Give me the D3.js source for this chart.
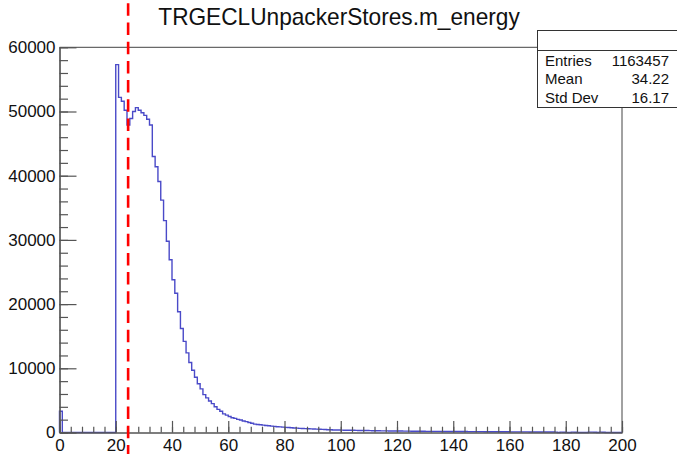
<!DOCTYPE html>
<html>
<head>
<meta charset="utf-8">
<script src="https://cdn.jsdelivr.net/npm/d3@7"></script>
<style>
  body { margin: 0; background: #fff; }
  text { font-family: "Liberation Sans", Arial, sans-serif; fill: #111; }
</style>
</head>
<body>
<script>
// histogram contents, one value per bin of width 1, from 0 to 200
var binCounts = [
  3300, 0, 0, 0, 0, 0, 0, 0, 0, 0,
  0, 0, 0, 0, 0, 0, 0, 0, 0, 0,
  57300, 52200, 51600, 50200, 47900, 48900, 50000, 50600, 50200, 49800,
  49400, 48800, 47900, 43000, 41400, 39100, 36200, 33000, 29800, 26900,
  23800, 21700, 18800, 16200, 14200, 12400, 10900, 9700, 8600, 7600,
  6800, 5900, 5400, 4900, 4500, 4000, 3600, 3300, 2900, 2700,
  2500, 2300, 2200, 2050, 1950, 1800, 1700, 1550, 1450, 1300,
  1250, 1200, 1150, 1100, 1050, 1000, 950, 900, 870, 840,
  800, 770, 740, 710, 680, 650, 620, 600, 580, 560,
  540, 520, 500, 480, 460, 440, 420, 400, 390, 380,
  370, 360, 350, 345, 340, 330, 320, 315, 310, 300,
  290, 280, 270, 265, 260, 255, 250, 245, 240, 235,
  230, 225, 220, 215, 210, 205, 200, 195, 190, 185,
  180, 178, 175, 172, 170, 168, 165, 162, 160, 158,
  155, 152, 150, 148, 145, 142, 140, 138, 135, 132,
  130, 128, 125, 122, 120, 118, 115, 112, 110, 108,
  105, 102, 100, 98, 95, 92, 90, 88, 85, 82,
  80, 78, 75, 72, 70, 68, 65, 0, 60, 50,
  0, 0, 55, 50, 0, 0, 0, 0, 60, 55,
  50, 0, 55, 45, 0, 0, 0, 0, 0, 0
];

var xMajorTicks = [0, 20, 40, 60, 80, 100, 120, 140, 160, 180, 200];
var xMinorTicks = d3.range(0, 201, 4);
var yMajorTicks = [0, 10000, 20000, 30000, 40000, 50000, 60000];
var yMinorTicks = d3.range(0, 60001, 2000);

var cutValue = 24.4;  // dashed red line

var title = "TRGECLUnpackerStores.m_energy";
var statNames = ["Entries", "Mean", "Std Dev"];
var statValues = ["1163457", "34.22", "16.17"];

var width = 677, height = 454;
// careful: "top" is taken by window.top, so other names here
var frameL = 59.5, frameR = 622, frameT = 47.3, frameB = 432.5;

var svg = d3.select("body")
    .append("svg")
    .attr("width", width)
    .attr("height", height);

var xScale = d3.scaleLinear()
    .domain([0, 200])
    .range([frameL, frameR]);

var yScale = d3.scaleLinear()
    .domain([0, 60000])
    .range([frameB, frameT]);

// frame, top and right sides
svg.append("path")
    .attr("d", "M" + frameL + "," + frameT + "H" + frameR + "V" + frameB)
    .attr("fill", "none")
    .attr("stroke", "#444")
    .attr("stroke-width", 1);

// histogram outline as steps
var pts = [[0, 0]];
binCounts.forEach(function(c, i) {
    pts.push([i, c]);
    pts.push([i + 1, c]);
});
pts.push([200, 0]);

var line = d3.line()
    .x(d => xScale(d[0]))
    .y(d => yScale(d[1]));

svg.append("path")
    .datum(pts)
    .attr("d", line)
    .attr("fill", "none")
    .attr("stroke", "#4a4ac8")
    .attr("stroke-width", 1.4);

// axes, ticks point inwards like ROOT
var fontSize = "17px";

var yMinor = svg.append("g")
    .attr("transform", "translate(" + frameL + ",0)")
    .call(d3.axisLeft(yScale).tickValues(yMinorTicks).tickSize(-8.5).tickSizeOuter(0).tickFormat(""));
var yMajor = svg.append("g")
    .attr("transform", "translate(" + frameL + ",0)")
    .call(d3.axisLeft(yScale).tickValues(yMajorTicks).tickSize(-17).tickSizeOuter(0).tickPadding(4).tickFormat(d3.format("d")));

var xMinor = svg.append("g")
    .attr("transform", "translate(0," + frameB + ")")
    .call(d3.axisBottom(xScale).tickValues(xMinorTicks).tickSize(-5.8).tickSizeOuter(0).tickFormat(""));
var xMajor = svg.append("g")
    .attr("transform", "translate(0," + frameB + ")")
    .call(d3.axisBottom(xScale).tickValues(xMajorTicks).tickSize(-11.6).tickSizeOuter(0).tickPadding(6));

[yMinor, yMajor, xMinor, xMajor].forEach(function(g) {
    g.selectAll("path, line").attr("stroke", "#555").attr("stroke-width", 1.2);
    g.selectAll("text")
        .attr("font-size", fontSize)
        .attr("font-family", "Liberation Sans, Arial, sans-serif")
        .attr("fill", "#111");
});

// dashed cut line
svg.append("line")
    .attr("x1", xScale(cutValue))
    .attr("x2", xScale(cutValue))
    .attr("y1", 0)
    .attr("y2", height)
    .attr("stroke", "#ff0000")
    .attr("stroke-width", 2.6)
    .attr("stroke-dasharray", "12.5,6.7")
    .attr("stroke-dashoffset", 15.9);

// stats box
var box = svg.append("g");
box.append("rect")
    .attr("x", 537.5).attr("y", 30.5)
    .attr("width", 150).attr("height", 77)
    .attr("fill", "#fff")
    .attr("stroke", "#333")
    .attr("stroke-width", 1);
box.append("line")
    .attr("x1", 537.5).attr("x2", 677)
    .attr("y1", 50.5).attr("y2", 50.5)
    .attr("stroke", "#333");

box.selectAll("text.name")
    .data(statNames)
    .enter()
    .append("text")
    .attr("class", "name")
    .attr("x", 545)
    .attr("y", (d, i) => 65.5 + i * 18.5)
    .attr("font-size", "15px")
    .text(d => d);

box.selectAll("text.val")
    .data(statValues)
    .enter()
    .append("text")
    .attr("class", "val")
    .attr("x", 669)
    .attr("y", (d, i) => 65.5 + i * 18.5)
    .attr("text-anchor", "end")
    .attr("font-size", "15px")
    .text(d => d);

// title
svg.append("text")
    .attr("transform", "translate(339,25) scale(0.945,1)")
    .attr("text-anchor", "middle")
    .attr("font-size", "24px")
    .text(title);
</script>
</body>
</html>
